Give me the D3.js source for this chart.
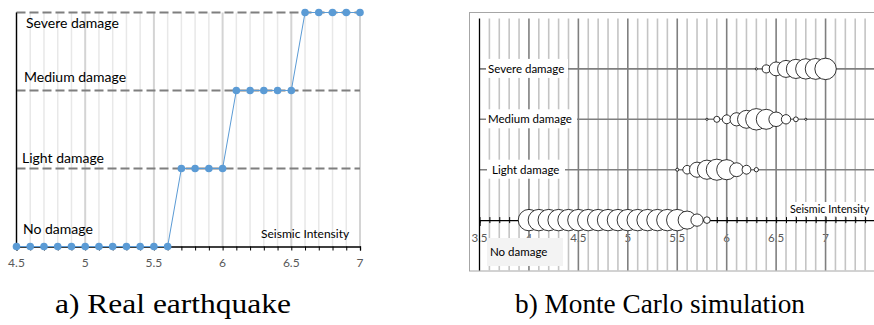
<!DOCTYPE html>
<html><head><meta charset="utf-8">
<script src="https://cdn.jsdelivr.net/npm/d3@7/dist/d3.min.js"></script>
<style>body{margin:0;background:#fff}svg{display:block}</style>
</head><body>
<svg id="c" width="874" height="325"></svg>
<script>
// ---------- data ----------
const damageLevels = ["No damage","Light damage","Medium damage","Severe damage"];
// a) real earthquake
const realIntensity = [4.5,4.6,4.7,4.8,4.9,5.0,5.1,5.2,5.3,5.4,5.5,5.6,5.7,5.8,5.9,6.0,6.1,6.2,6.3,6.4,6.5,6.6,6.7,6.8,6.9,7.0];
const realLevel     = [0,0,0,0,0,0,0,0,0,0,0,0,1,1,1,1,2,2,2,2,2,3,3,3,3,3];
const ticksA = [4.5,5,5.5,6,6.5,7];
// b) Monte Carlo simulation (bubble size = relative frequency)
const mcNoX   = [4.0,4.1,4.2,4.3,4.4,4.5,4.6,4.7,4.8,4.9,5.0,5.1,5.2,5.3,5.4,5.5,5.6,5.7,5.8];
const mcNoP   = [1,1,1,1,1,1,1,1,1,1,1,1,1,1,1,1,0.71,0.33,0.095];
const mcLightX = [5.5,5.6,5.7,5.8,5.9,6.0,6.1,6.2,6.3];
const mcLightP = [0.02,0.16,0.5,0.8,0.97,0.88,0.42,0.17,0.04];
const mcMedX = [5.8,5.9,6.0,6.1,6.2,6.3,6.4,6.5,6.6,6.7,6.8];
const mcMedP = [0.01,0.08,0.17,0.38,0.7,1.0,0.87,0.46,0.19,0.05,0.01];
const mcSevX = [6.3,6.4,6.5,6.6,6.7,6.8,6.9,7.0];
const mcSevP = [0.01,0.14,0.42,0.63,0.8,0.9,0.95,1.0];
const ticksB = [3.5,4,4.5,5,5.5,6,6.5,7];
const captions = ["a) Real earthquake","b) Monte Carlo simulation"];

const svg = d3.select("#c");
const font = "Lato, 'Open Sans', sans-serif";
const rng = (a,b,s)=>d3.range(Math.round((b-a)/s)+1).map(i=>+(a+i*s).toFixed(2));

// ---------- chart a ----------
{
  const x = d3.scaleLinear().domain([4.5,7]).range([16.5,360]);
  const y = d3.scaleLinear().domain([0,3]).range([246.5,12.5]);
  const g = svg.append("g");
  rng(4.5,7,0.1).forEach(v=>{
    const major = Math.abs(v*2-Math.round(v*2))<1e-6;
    g.append("line").attr("x1",x(v)).attr("x2",x(v)).attr("y1",y(3)).attr("y2",y(0))
      .attr("stroke",major?"#d4d4d4":"#e8e8e8").attr("stroke-width",major?2:1.5);
  });
  [1,2,3].forEach(l=>{
    g.append("line").attr("x1",x(4.5)).attr("x2",x(7)).attr("y1",y(l)).attr("y2",y(l))
      .attr("stroke","#7f7f7f").attr("stroke-width",2).attr("stroke-dasharray","9,4");
  });
  g.append("line").attr("x1",x(4.5)).attr("x2",x(4.5)).attr("y1",y(3)).attr("y2",y(0)).attr("stroke","#000").attr("stroke-width",1.3);
  const ax = d3.axisBottom(x).tickValues(rng(4.5,7,0.1)).tickSize(4).tickFormat("");
  const axg = g.append("g").attr("transform",`translate(0,${y(0)})`).call(ax);
  axg.select(".domain").attr("stroke","#000").attr("stroke-width",1.3);
  axg.selectAll(".tick line").attr("stroke","#000");
  ticksA.forEach(v=>{
    g.append("text").attr("x",x(v)).attr("y",267).attr("text-anchor","middle")
      .attr("font-family",font).attr("font-size",12).attr("fill","#595959").text(v);
  });
  const labPos = [[23,234],[22,163],[24,82],[26,28]];
  damageLevels.forEach((t,i)=>{
    g.append("text").attr("x",labPos[i][0]).attr("y",labPos[i][1])
      .attr("font-family",font).attr("font-size",14).attr("fill","#000").text(t);
  });
  g.append("text").attr("x",261).attr("y",238).attr("font-family",font).attr("font-size",12).attr("fill","#000").text("Seismic Intensity");
  const pts = realIntensity.map((v,i)=>[v,realLevel[i]]);
  g.append("path").attr("d",d3.line().x(d=>x(d[0])).y(d=>y(d[1]))(pts))
    .attr("fill","none").attr("stroke","#5b9bd5").attr("stroke-width",1);
  g.selectAll("circle.p").data(pts).join("circle").attr("cx",d=>x(d[0])).attr("cy",d=>y(d[1]))
    .attr("r",3.8).attr("fill","#5b9bd5");
}

// ---------- chart b ----------
{
  const x = d3.scaleLinear().domain([3.5,7.5]).range([479.5,875]);
  const y = d3.scaleLinear().domain([-1,4]).range([270.5,18.5]);
  const r = d3.scaleSqrt().domain([0,1]).range([0,10.7]);
  const g = svg.append("g");
  g.append("rect").attr("x",469.5).attr("y",12.5).attr("width",430).attr("height",258.5)
    .attr("fill","#fff").attr("stroke","#a6a6a6").attr("stroke-width",1);
  ticksB.forEach(v=>{
    g.append("text").attr("x",x(v)).attr("y",242).attr("text-anchor","middle")
      .attr("font-family",font).attr("font-size",11.5).attr("fill","#595959").text(v);
  });
  rng(3.6,7.5,0.1).forEach(v=>{
    const major = Math.abs(v*2-Math.round(v*2))<1e-6;
    g.append("line").attr("x1",x(v)).attr("x2",x(v)).attr("y1",y(4)).attr("y2",y(-1))
      .attr("stroke",major?"#7f7f7f":"#c4c4c4").attr("stroke-width",1.6);
  });
  [1,2,3].forEach(l=>{
    g.append("line").attr("x1",x(3.5)).attr("x2",875).attr("y1",y(l)).attr("y2",y(l))
      .attr("stroke","#7f7f7f").attr("stroke-width",1.6);
  });
  g.append("line").attr("x1",x(3.5)).attr("x2",x(3.5)).attr("y1",y(4)).attr("y2",y(-1)).attr("stroke","#000").attr("stroke-width",1.3);
  const ax = d3.axisBottom(x).tickValues(rng(3.5,7.5,0.1)).tickSize(6).tickFormat("");
  const axg = g.append("g").attr("transform",`translate(0,${y(0)})`).call(ax);
  axg.select(".domain").attr("stroke","#000").attr("stroke-width",1.3);
  axg.selectAll(".tick line").attr("stroke","#000").attr("y1",-3).attr("y2",3);
  const boxes = [
    {t:damageLevels[3], bx:486, by:y(3)-10, bw:82, bh:19, tx:488, fill:"#fff", fs:11.5},
    {t:damageLevels[2], bx:486, by:y(2)-10, bw:91, bh:19, tx:488, fill:"#fff", fs:11.5},
    {t:damageLevels[1], bx:487, by:y(1)-10, bw:78, bh:19, tx:492, fill:"#fff", fs:11.5},
    {t:damageLevels[0], bx:487, by:238, bw:76, bh:28, tx:490, ty:256, fill:"#f3f3f3", fs:11.5},
    {t:"Seismic Intensity", bx:788, by:202, bw:90, bh:14, tx:790, ty:213, fill:"#fff", fs:10.8}
  ];
  boxes.forEach(b=>{
    g.append("rect").attr("x",b.bx).attr("y",b.by).attr("width",b.bw).attr("height",b.bh).attr("fill",b.fill);
    g.append("text").attr("x",b.tx).attr("y",b.ty!==undefined?b.ty:b.by+14)
      .attr("font-family",font).attr("font-size",b.fs).attr("fill","#000").text(b.t);
  });
  const series = [[mcNoX,mcNoP,0],[mcLightX,mcLightP,1],[mcMedX,mcMedP,2],[mcSevX,mcSevP,3]];
  series.forEach(([xs,ps,l])=>{
    g.append("g").selectAll("circle").data(xs.map((v,i)=>[v,ps[i]])).join("circle")
      .attr("cx",d=>x(d[0])).attr("cy",y(l)).attr("r",d=>r(d[1]))
      .attr("fill","#fff").attr("stroke","#000").attr("stroke-width",0.8);
  });
}

// ---------- captions ----------
svg.append("text").attr("x",55).attr("y",313).attr("font-family","'Liberation Serif','Times New Roman',serif")
  .attr("font-size",28).attr("fill","#000").attr("textLength",236).attr("lengthAdjust","spacingAndGlyphs").text(captions[0]);
svg.append("text").attr("x",515).attr("y",313).attr("font-family","'Liberation Serif','Times New Roman',serif")
  .attr("font-size",28).attr("fill","#000").attr("textLength",290).attr("lengthAdjust","spacingAndGlyphs").text(captions[1]);
</script>
</body></html>
